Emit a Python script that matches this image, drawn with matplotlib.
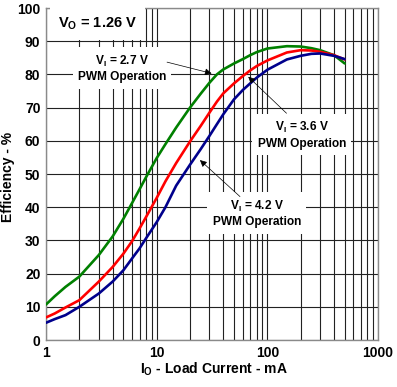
import numpy as np
import matplotlib
matplotlib.use('Agg')
import matplotlib.pyplot as plt
from matplotlib.ticker import FixedLocator, NullFormatter

plt.rcParams['font.family'] = ['Liberation Sans', 'DejaVu Sans']
plt.rcParams['font.weight'] = 'bold'
plt.rcParams['mathtext.fontset'] = 'custom'
plt.rcParams['mathtext.rm'] = 'Liberation Sans:bold'
plt.rcParams['mathtext.default'] = 'rm'

# load current (mA)
i_load = [1, 1.2, 1.5, 2, 3, 4, 5, 6, 7, 8, 10, 12, 15, 20, 25, 30, 35, 40, 50, 60, 70, 80,
          100, 150, 200, 250, 300, 400, 500]

# efficiency (%) for each input voltage
eff_27 = [10.7, 13.2, 16.0, 19.1, 25.6, 31.2, 36.5, 41.3, 45.4, 49.0, 54.8, 59.0, 64.0, 70.0,
          74.2, 77.5, 80.0, 81.5, 83.3, 84.6, 85.8, 86.7, 87.8, 88.5, 88.4, 87.9, 87.3, 85.8, 83.3]
eff_36 = [6.8, 8.0, 9.8, 12.0, 17.6, 22.0, 26.0, 29.8, 33.6, 37.0, 42.8, 47.8, 53.3, 59.8,
          64.5, 68.5, 71.8, 74.3, 77.3, 79.5, 81.2, 82.5, 84.2, 86.6, 87.3, 87.2, 86.8, 85.8, 84.5]
eff_42 = [5.2, 6.3, 7.5, 10.0, 14.0, 17.6, 21.0, 24.6, 27.6, 30.6, 35.5, 40.0, 46.5, 52.8,
          57.5, 61.5, 65.0, 68.0, 72.5, 75.3, 77.3, 79.0, 81.4, 84.5, 85.6, 86.2, 86.3, 85.6, 84.6]

y_ticks = [0, 10, 20, 30, 40, 50, 60, 70, 80, 90, 100]
x_ticks = [1, 10, 100, 1000]
x_tick_labels = ['1', '10', '100', '1000']

fig = plt.figure(figsize=(3.97, 3.87), dpi=100)
ax = fig.add_axes([0.1159, 0.1214, 0.8363, 0.8579])

ax.set_xscale('log')
ax.set_xlim(1, 1000)
ax.set_ylim(0, 100)

kw = dict(lw=1.9, zorder=3, solid_joinstyle='round', solid_capstyle='round')
ax.plot(i_load, eff_27, color='#008000', **kw)
ax.plot(i_load, eff_36, color='#ff0000', **kw)
ax.plot(i_load, eff_42, color='#00008c', **kw)

ax.xaxis.set_major_locator(FixedLocator(x_ticks))
minor = [m * d for d in [1, 10, 100] for m in range(2, 10)]
ax.xaxis.set_minor_locator(FixedLocator(minor))
ax.xaxis.set_minor_formatter(NullFormatter())
ax.set_xticklabels(x_tick_labels)
ax.set_yticks(y_ticks)
ax.tick_params(which='both', length=0, labelsize=10, pad=4)
for lab in ax.get_xticklabels() + ax.get_yticklabels():
    lab.set_fontweight('bold')

ax.grid(True, which='both', axis='x', color='#222222', lw=0.8, zorder=1)
ax.grid(True, which='major', axis='y', color='#222222', lw=0.8, zorder=1)
for s in ax.spines.values():
    s.set_color('#8a8a8a')
    s.set_linewidth(1.0)

ax.set_xlabel(r'I$_{\mathrm{O}}$ - Load Current - mA', fontsize=10, fontweight='bold')
ax.set_ylabel('Efficiency - %', fontsize=10, fontweight='bold')
ax.xaxis.set_label_coords(0.5045, -0.062)
ax.yaxis.set_label_coords(-0.094, 0.491)

ax.text(1.284, 95.3, r'V$_{\mathrm{O}}$ = 1.26 V', fontsize=10.5, fontweight='bold',
        ha='left', va='center', zorder=4,
        bbox=dict(facecolor='white', edgecolor='none', pad=6))

box = dict(facecolor='white', edgecolor='none', pad=3.8)
lbl = dict(fontsize=8.6, fontweight='bold', ha='center', va='center',
           linespacing=1.3, bbox=box, zorder=4)
ax.text(4.86, 81.8, r'V$_{\mathrm{I}}$ = 2.7 V' + '\nPWM Operation', **lbl)
ax.text(205, 61.8, r'V$_{\mathrm{I}}$ = 3.6 V' + '\nPWM Operation', **lbl)
ax.text(80.5, 38.1, r'V$_{\mathrm{I}}$ = 4.2 V' + '\nPWM Operation', **lbl)

arrow = dict(arrowstyle='-|>', color='black', lw=0.5, mutation_scale=10,
             shrinkA=0, shrinkB=0)
ax.annotate('', xy=(31.4, 80.3), xytext=(12.4, 83.7), arrowprops=arrow, zorder=5)
ax.annotate('', xy=(67.2, 79.3), xytext=(149, 68.3), arrowprops=arrow, zorder=5)
ax.annotate('', xy=(24.6, 54.2), xytext=(56.6, 43.2), arrowprops=arrow, zorder=5)

fig.savefig('out.png', dpi=100)
